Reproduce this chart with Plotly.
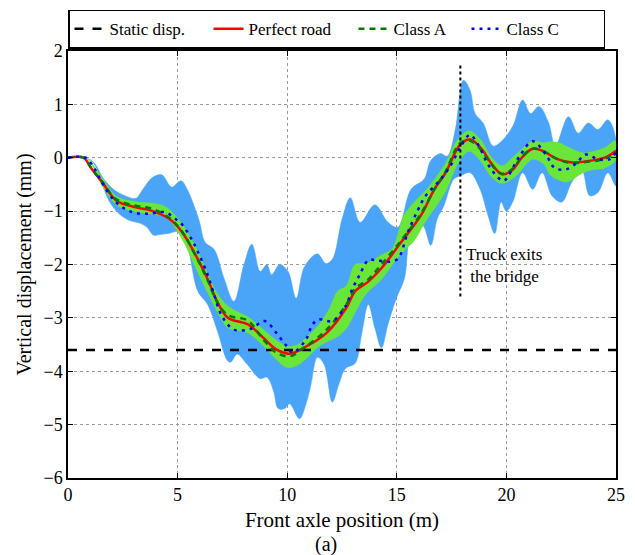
import plotly.graph_objects as go

# ---- data (front axle position in m, vertical displacement in mm) ----
static_disp = -3.6
exit_x = 17.9
exit_span = [-2.6, 1.75]

perfect_x = [0, 0.7, 1.1, 1.6, 2.2, 3.1, 3.8, 4.6, 5.2, 5.9, 6.4, 6.8, 7.3, 8.2, 8.9, 9.5,
             10.1, 10.8, 11.8, 12.7, 13.1, 13.7, 14.3, 15.2, 16.1, 16.7, 17.2, 17.9, 18.35,
             18.9, 19.3, 19.8, 20.3, 20.7, 21.2, 21.7, 22.3, 23.0, 23.6, 24.2, 24.6, 25]
perfect_y = [0, 0, -0.22, -0.48, -0.8, -0.93, -0.99, -1.14, -1.39, -1.88, -2.3, -2.69, -3.0,
             -3.12, -3.37, -3.59, -3.67, -3.55, -3.28, -2.81, -2.5, -2.32, -2.07, -1.58, -1.08,
             -0.6, -0.3, 0.25, 0.34, 0.15, -0.1, -0.31, -0.22, 0.0, 0.17, 0.12, -0.02, -0.09,
             -0.07, -0.03, 0.02, 0.13]

class_a_y = [0, 0, -0.22, -0.47, -0.78, -0.9, -0.95, -1.12, -1.38, -1.9, -2.32, -2.7, -2.95,
             -3.05, -3.4, -3.65, -3.72, -3.55, -3.22, -2.75, -2.45, -2.28, -2.0, -1.55, -1.05,
             -0.6, -0.28, 0.28, 0.32, 0.12, -0.12, -0.3, -0.2, 0.02, 0.17, 0.12, -0.02, -0.1,
             -0.08, -0.05, 0.0, 0.1]

class_c_x = [0, 0.8, 1.2, 1.6, 2.18, 2.93, 3.68, 4.43, 4.88, 5.18, 5.63, 5.92, 6.37, 6.67, 7.0,
             7.57, 8.3, 8.98, 9.5, 9.96, 10.26, 10.86, 11.16, 11.45, 12.06, 12.66, 12.96, 13.3,
             13.7, 14.08, 14.6, 15.05, 15.5, 15.95, 16.32, 16.9, 17.45, 17.9, 18.34, 18.7, 19.2,
             19.7, 19.9, 20.6, 21.2, 21.8, 22.2, 22.7, 23.2, 23.6, 24.2, 24.7, 25]
class_c_y = [0, 0, -0.2, -0.5, -0.83, -1.02, -1.05, -1.02, -1.14, -1.24, -1.52, -1.76, -2.19,
             -2.57, -2.95, -3.22, -3.21, -3.06, -3.28, -3.52, -3.65, -3.4, -3.12, -3.03, -3.06,
             -2.78, -2.47, -2.2, -1.92, -1.92, -1.95, -1.89, -1.4, -0.99, -0.71, -0.45, -0.15,
             0.2, 0.43, 0.25, -0.15, -0.4, -0.43, 0.03, 0.31, 0.06, -0.19, -0.22, -0.1, 0.06,
             -0.03, -0.03, 0.1]

# Class A spread (green band)
band_a_x = [0, 0.8, 1.6, 2.2, 3.2, 4.0, 4.5, 5.2, 5.9, 6.4, 6.9, 7.3, 7.8, 8.2, 9.0, 9.5, 10.0,
            10.5, 10.9, 11.4, 11.9, 12.3, 12.7, 13.1, 13.6, 14.3, 14.8, 15.3, 15.8, 16.3, 17.2,
            17.8, 18.3, 18.8, 19.3, 19.8, 20.4, 21.2, 21.7, 22.0, 22.4, 22.8, 23.5, 24.0, 24.5, 25]
band_a_hi = [0, 0, -0.4, -0.72, -0.83, -0.86, -0.93, -1.24, -1.74, -2.2, -2.6, -2.78, -2.9,
             -2.98, -3.25, -3.42, -3.53, -3.5, -3.35, -3.15, -2.85, -2.5, -2.4, -2.0, -1.98,
             -1.82, -1.7, -1.1, -0.83, -0.62, -0.12, 0.35, 0.5, 0.35, 0.02, -0.15, 0.05, 0.31,
             0.28, 0.3, 0.28, 0.2, 0.09, 0.12, 0.19, 0.32]
band_a_lo = [0, 0, -0.55, -0.88, -1.02, -1.06, -1.12, -1.52, -2.13, -2.55, -2.95, -3.19, -3.24,
             -3.28, -3.56, -3.78, -3.93, -3.88, -3.75, -3.55, -3.43, -3.35, -3.2, -2.9, -2.55,
             -2.28, -2.0, -1.75, -1.55, -1.2, -0.65, -0.1, 0.12, -0.05, -0.35, -0.48, -0.35,
             -0.03, -0.12, -0.32, -0.42, -0.45, -0.28, -0.22, -0.19, -0.03]

# Class C spread (blue band)
band_c_hi_x = [0, 0.8, 1.2, 1.6, 2.1, 2.6, 3.1, 3.4, 3.85, 4.28, 4.6, 4.75, 5.15, 5.45, 5.75, 6.0,
               6.25, 6.67, 7.12, 7.57, 8.02, 8.39, 8.77, 9.07, 9.29, 9.66, 10.04, 10.41, 10.79,
               11.38, 11.76, 12.06, 12.51, 12.88, 13.33, 14.0, 14.6, 15.05, 15.65, 16.25, 16.55,
               17.0, 17.3, 17.67, 18.04, 18.34, 18.57, 18.94, 19.39, 19.7, 20.29, 20.74, 21.1,
               21.49, 21.93, 22.23, 22.83, 23.28, 23.73, 24.18, 24.63, 25]
band_c_hi = [0, 0, -0.1, -0.38, -0.6, -0.71, -0.76, -0.6, -0.37, -0.32, -0.5, -0.55, -0.43,
             -0.6, -0.9, -1.2, -1.58, -1.72, -2.26, -2.69, -2.01, -1.62, -2.13, -2.0, -2.19,
             -2.0, -2.13, -2.63, -2.04, -1.8, -1.98, -1.9, -1.14, -0.75, -1.21, -0.88, -1.21,
             -1.3, -0.59, -0.4, -0.05, 0.08, 0.03, 0.53, 1.45, 1.27, 0.83, 0.65, 0.22, 0.28,
             0.59, 1.08, 0.83, 0.96, 0.65, 0.22, 0.77, 0.46, 0.65, 0.53, 0.71, 0.34]
band_c_lo_x = [0, 0.8, 1.2, 1.6, 1.9, 2.33, 2.78, 3.23, 3.6, 3.9, 4.2, 4.58, 5.03, 5.4, 5.92,
               6.37, 6.82, 7.27, 7.42, 7.72, 8.17, 8.77, 9.07, 9.37, 9.59, 9.89, 10.11, 10.56,
               10.86, 11.09, 11.38, 11.68, 12.06, 12.36, 12.66, 13.1, 13.4, 13.7, 14.0, 14.3,
               14.6, 14.98, 15.35, 15.65, 16.17, 16.55, 16.85, 17.15, 17.6, 17.9, 18.34, 18.8,
               19.16, 19.47, 19.76, 19.99, 20.29, 20.74, 21.2, 21.63, 22.08, 22.53, 22.98,
               23.43, 23.8, 24.18, 24.63, 25]
band_c_lo = [0, 0, -0.12, -0.55, -0.83, -1.05, -1.17, -1.22, -1.3, -1.45, -1.44, -1.42, -1.39,
             -1.6, -2.5, -2.75, -3.25, -3.8, -3.83, -3.68, -3.87, -4.14, -4.11, -4.36, -4.7,
             -4.7, -4.61, -4.89, -4.61, -4.24, -3.74, -3.87, -4.58, -4.24, -3.95, -3.85, -3.3,
             -2.75, -3.19, -3.56, -3.12, -2.63, -2.26, -1.45, -1.27, -1.64, -1.14, -0.9, -0.4,
             -0.34, -0.28, -0.59, -1.08, -1.42, -0.83, -1.0, -0.83, -0.28, -0.59, -0.28, -0.71,
             -0.83, -0.46, -0.22, -0.71, -0.65, -0.28, -0.53]

SERIF = "Liberation Serif"

fig = go.Figure()

# envelopes
fig.add_trace(go.Scatter(
    x=band_c_hi_x + band_c_lo_x[::-1], y=band_c_hi + band_c_lo[::-1],
    fill="toself", fillcolor="#4aa5f8", line=dict(color="#4aa5f8", width=0.5, shape="spline"),
    mode="lines", showlegend=False, hoverinfo="skip"))
fig.add_trace(go.Scatter(
    x=band_a_x + band_a_x[::-1], y=band_a_hi + band_a_lo[::-1],
    fill="toself", fillcolor="#6ae63a", line=dict(color="#6ae63a", width=0.5, shape="spline"),
    mode="lines", showlegend=False, hoverinfo="skip"))

# static displacement and the three responses
fig.add_trace(go.Scatter(
    x=[0, 25], y=[static_disp, static_disp], mode="lines", name="Static disp.",
    legendwidth=94, line=dict(color="black", width=2.5, dash="dash")))
fig.add_trace(go.Scatter(
    x=perfect_x, y=perfect_y, mode="lines", name="Perfect road", legendwidth=100,
    line=dict(color="#ff0000", width=2.5, shape="spline")))
fig.add_trace(go.Scatter(
    x=perfect_x, y=class_a_y, mode="lines", name="Class A", legendwidth=68,
    line=dict(color="#007a00", width=2.5, dash="6px,5px", shape="spline")))
fig.add_trace(go.Scatter(
    x=class_c_x, y=class_c_y, mode="lines", name="Class C", legendwidth=92,
    line=dict(color="#0000ff", width=2.5, dash="3px,5px", shape="spline")))

# truck exit marker
fig.add_shape(type="line", x0=exit_x, x1=exit_x, y0=exit_span[0], y1=exit_span[1],
              xref="x", yref="y", line=dict(color="black", width=2, dash="dot"))
fig.add_annotation(x=exit_x + 0.15, y=-2.02, xref="x", yref="y", xanchor="left",
                   text="Truck exits<br> the bridge", showarrow=False, align="left",
                   font=dict(family=SERIF, size=17, color="black"))
fig.add_annotation(x=0.47, y=-0.155, xref="paper", yref="paper", yanchor="middle",
                   text="(a)", showarrow=False, font=dict(family=SERIF, size=20, color="black"))

axis_common = dict(showline=True, linecolor="black", linewidth=1.5, mirror="ticks",
                   ticks="inside", ticklen=5, tickcolor="black", showgrid=True,
                   gridcolor="#9a9a9a", griddash="dot", gridwidth=1, zeroline=False,
                   tickfont=dict(family=SERIF, size=18, color="black"))

fig.update_layout(
    width=635, height=555,
    margin=dict(l=68, r=10, t=47, b=77),
    plot_bgcolor="white", paper_bgcolor="white",
    font=dict(family=SERIF, color="black"),
    xaxis=dict(range=[0, 25], dtick=5, title=dict(text="Front axle position (m)",
               font=dict(family=SERIF, size=21), standoff=8), **axis_common),
    yaxis=dict(range=[-6, 2], dtick=1, title=dict(text="Vertical displacement (mm)",
               font=dict(family=SERIF, size=20), standoff=6), **axis_common),
    legend=dict(orientation="h", x=0, xanchor="left", y=1.097, yanchor="top",
                bordercolor="black", borderwidth=1.5, bgcolor="white",
                font=dict(family=SERIF, size=17, color="black"),
                itemwidth=30, tracegroupgap=0),
)

fig.write_html("out.html")
